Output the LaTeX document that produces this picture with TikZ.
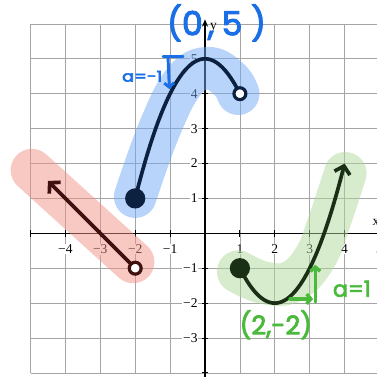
\documentclass[tikz,border=0pt]{standalone}
\usepackage{fontspec}
\setmainfont{Liberation Serif}
\newfontfamily\hand{Poppins}[FakeBold=3]
\newfontfamily\handb{Poppins}[FakeBold=4]
\usetikzlibrary{arrows.meta}
\definecolor{gridgray}{RGB}{165,165,165}
\definecolor{navy}{RGB}{12,32,64}
\definecolor{maroon}{RGB}{62,16,16}
\definecolor{dgreen}{RGB}{26,48,22}
\definecolor{hlblue}{RGB}{115,170,245}
\definecolor{hlred}{RGB}{241,145,135}
\definecolor{hlgreen}{RGB}{175,215,155}
\definecolor{penblue}{RGB}{26,110,230}
\definecolor{pengreen}{RGB}{75,185,60}
\begin{document}
\begin{tikzpicture}[x=1cm,y=1cm,
  gridline/.style={gridgray, line width=0.6pt},
  axisline/.style={black, line width=1.1pt},
  tickmark/.style={black, line width=0.8pt},
  ticklab/.style={font=\fontsize{11}{13}\selectfont, fill=white, inner sep=0.8pt},
  hl/.style={line width=1.22cm, line cap=round, line join=round, opacity=0.5},
  curve/.style={line width=3pt, line cap=round},
  barb/.style={-{Straight Barb[length=6pt,width=13pt]}},
  opendot/.style={line width=2.6pt, fill=white, draw=#1},
  pen/.style={line width=2.4pt, line cap=round, line join=round},
  penbarb/.style={-{Straight Barb[length=3.5pt,width=8pt]}},
  handtext/.style={inner sep=0pt, font=\hand\fontsize{#1}{#1}\selectfont},
  handsmall/.style={inner sep=0pt, font=\handb\fontsize{#1}{#1}\selectfont}]
\useasboundingbox (-5.874,-4.117) rectangle (4.90,6.685);
% grid
\draw[gridline] (-5,-4) grid (5,6);
% axes
\draw[axisline] (-5,0) -- (5.3,0);
\draw[axisline, -{Stealth[length=6pt,width=5pt]}] (0,-4.3) -- (0,6.13);
\foreach \i in {-5,...,4} \draw[tickmark] (\i,-0.1) -- (\i,0.1);
\foreach \j in {-4,...,5} \draw[tickmark] (-0.1,\j) -- (0.1,\j);
\foreach \i/\t in {-4/−4,-3/−3,-2/−2,-1/−1,1/1,2/2,3/3,4/4,5/5}
  \node[ticklab] (xl\i) at (\i,-0.45) {\t};
\foreach \j/\t in {5/5,4/4,3/3,2/2,1/1,-1/−1,-2/−2,-3/−3}
  \node[ticklab, anchor=east] (yl\j) at (-0.18,\j) {\t};
\node[ticklab, fill=none] (xname) at (4.9,0.32) {x};
\node[ticklab, fill=none] (yname) at (0.24,5.88) {y};
% highlights
\draw[hl, hlred] (-4.96,1.81) -- (-2.06,-0.82);
\draw[hl, hlblue] plot[smooth, tension=0.7] coordinates {(-2,1.05) (-1.3,3.0) (-0.6,4.35) (0.1,4.73) (0.7,4.4) (0.95,4.0)};
\draw[hl, hlgreen] plot[smooth, tension=0.7] coordinates {(0.95,-1.1) (1.7,-1.42) (2.5,-1.38) (3.15,-0.7) (3.55,0.3) (4.02,1.72)};
% curves
\coordinate (redOpen) at (-2,-1);
\coordinate (redTip) at (-4.5,1.5);
\coordinate (blueClosed) at (-2,1);
\coordinate (blueOpen) at (1,4);
\coordinate (greenClosed) at (1,-1);
\draw[curve, maroon, barb] (redOpen) -- (redTip);
\draw[curve, navy] plot[domain=-2:1, samples=60] (\x,{5-\x*\x});
\draw[curve, dgreen, barb] plot[domain=1:4, samples=60] (\x,{(\x-2)*(\x-2)-2});
\fill[navy] (blueClosed) circle (0.29);
\fill[dgreen] (greenClosed) circle (0.29);
\path[opendot=maroon] (redOpen) circle (0.17);
\path[opendot=navy] (blueOpen) circle (0.17);
% handwriting (blue)
\node[handtext=27, text=penblue] (vtx) at (0.33,6.03) {(0\kern4pt,\kern6pt5\kern7pt)};
\node[handsmall=12, text=penblue, xscale=1.2] (ablue) at (-1.8,4.5) {a=-1};
\coordinate (bt1) at (-1.2,5.06);
\coordinate (bt2) at (-0.63,5.06);
\coordinate (bv1) at (-1.06,5.04);
\coordinate (bv2) at (-1.02,4.13);
\draw[pen, penblue] (bt1) -- (bt2);
\draw[pen, penblue, penbarb] (bv1) -- (bv2);
% handwriting (green)
\node[handtext=21, text=pengreen] (vtx2) at (2.03,-2.62) {(2,-2)};
\node[handtext=18, text=pengreen] (agreen) at (4.21,-1.59) {a=1};
\coordinate (gh1) at (2.44,-1.88);
\coordinate (gh2) at (3.1,-1.88);
\coordinate (gv1) at (3.16,-1.97);
\coordinate (gv2) at (3.16,-0.9);
\draw[pen, pengreen, line width=2.8pt, penbarb] (gh1) -- (gh2);
\draw[pen, pengreen, line width=2.8pt, penbarb] (gv1) -- (gv2);
\end{tikzpicture}
\end{document}
